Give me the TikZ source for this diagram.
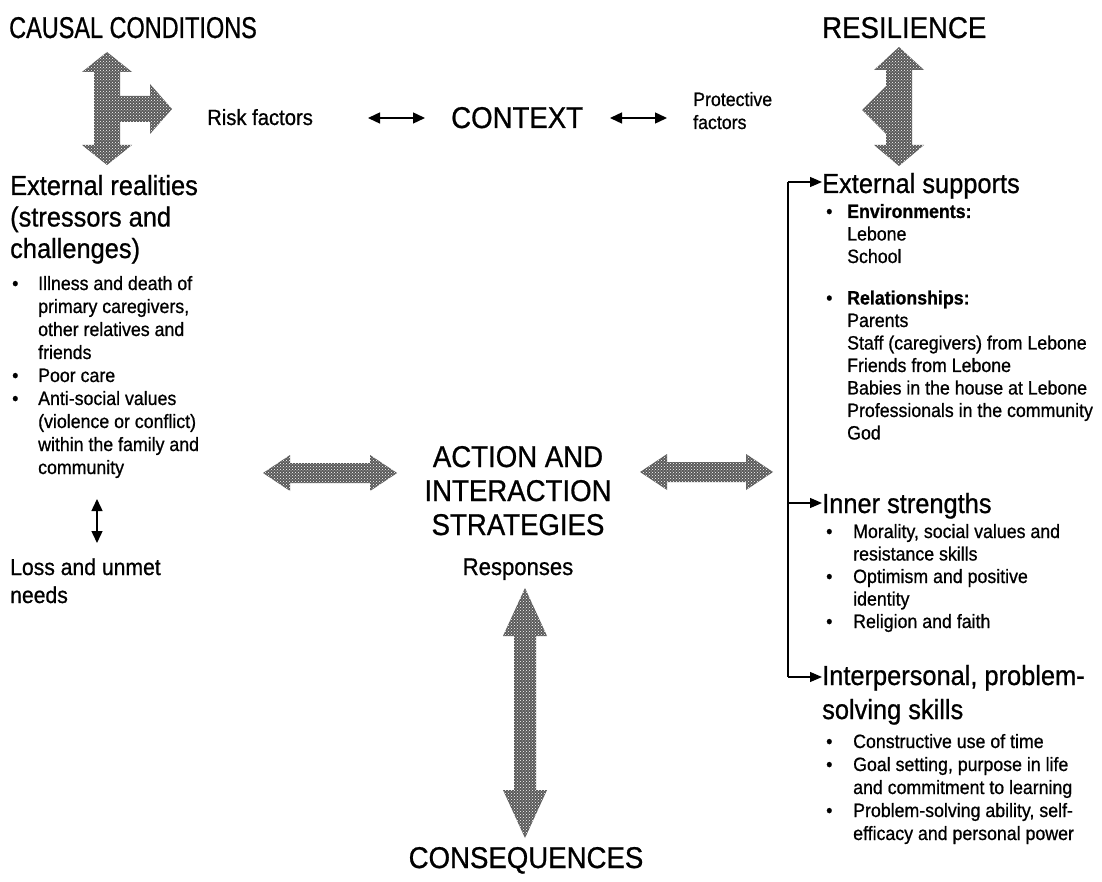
\documentclass[tikz,border=0pt]{standalone}
\usepackage{fontspec}
\setmainfont{Liberation Sans}[FakeStretch=0.92,FakeBold=0.8]
\usetikzlibrary{arrows.meta,patterns}
\newcommand\mytitle{\fontsize{30}{34}\selectfont}
\newcommand\myhead{\fontsize{27.6}{31.5}\selectfont}
\newcommand\mybody{\fontsize{19.3}{23}\selectfont}
\newcommand\myrbody{\fontsize{19.3}{22.5}\selectfont}
\newcommand\myloss{\fontsize{23}{28}\selectfont}
\newcommand\bul{\makebox[26pt][l]{\textbullet}}
\newcommand\bulr{\makebox[21pt][l]{\textbullet}}
\newcommand\bulq{\makebox[27pt][l]{\textbullet}}
\begin{document}
\begin{tikzpicture}[x=1pt,y=-1pt,
  txt/.style={inner sep=0pt, anchor=base west},
  ctxt/.style={inner sep=0pt, anchor=base},
  big/.style={fill=black!65, draw=none, postaction={pattern=crosshatch dots, pattern color=white}},
  sarr/.style={line width=1.4pt, {Triangle[length=12pt,width=11pt]}-{Triangle[length=12pt,width=11pt]}},
  barr/.style={line width=1.2pt, -{Triangle[length=12pt,width=10pt]}}]
\useasboundingbox (0,0) rectangle (1102,882);

% titles
\node[txt] (causal) at (9,38) {\mytitle\scalebox{0.85}[1]{CAUSAL CONDITIONS}};
\node[txt] (resil) at (822,38) {\mytitle RESILIENCE};
\node[txt] (risk) at (207,125) {\fontsize{22}{26}\selectfont Risk factors};
\node[txt] (context) at (451,128) {\mytitle CONTEXT};
\node[txt] (prot) at (693,106) {\mybody\begin{tabular}[t]{@{}l@{}}Protective\\factors\end{tabular}};
\coordinate (a1) at (368,118); \coordinate (a2) at (425,118);
\coordinate (a3) at (610,118); \coordinate (a4) at (667,118);
\draw[sarr] (a1) -- (a2);
\draw[sarr] (a3) -- (a4);

% big patterned arrows
\draw[big] (107,52) -- (132,72) -- (120,72) -- (120,96) -- (150,96) -- (150,84) -- (172,109)
  -- (150,134) -- (150,122) -- (120,122) -- (120,145) -- (132,145) -- (107,165) -- (82,145)
  -- (94,145) -- (94,72) -- (82,72) -- cycle;
\draw[big] (899,47) -- (924,70) -- (912,70) -- (912,145) -- (924,145) -- (899,166) -- (874,145)
  -- (886,145) -- (886,134) -- (862,110) -- (886,86) -- (886,70) -- (874,70) -- cycle;
\draw[big] (263,473) -- (290,455) -- (290,463) -- (370,463) -- (370,455) -- (397,473)
  -- (370,491) -- (370,483) -- (290,483) -- (290,491) -- cycle;
\draw[big] (640,472) -- (667,454) -- (667,462) -- (746,462) -- (746,454) -- (773,472)
  -- (746,490) -- (746,482) -- (667,482) -- (667,490) -- cycle;
\draw[big] (525,588) -- (547,636) -- (536,636) -- (536,790) -- (547,790) -- (525,838)
  -- (503,790) -- (514,790) -- (514,636) -- (503,636) -- cycle;

% left column
\node[txt] (ext) at (10,195) {\myhead\begin{tabular}[t]{@{}l@{}}External realities\\(stressors and\\challenges)\end{tabular}};
\node[txt] (extlist) at (12,290) {\mybody\begin{tabular}[t]{@{}l@{}l@{}}
\bul & Illness and death of\\ & primary caregivers,\\ & other relatives and\\ & friends\\
\bul & Poor care\\
\bul & Anti-social values\\ & (violence or conflict)\\ & within the family and\\ & community\end{tabular}};
\node[txt] (loss) at (10,575) {\myloss\begin{tabular}[t]{@{}l@{}}Loss and unmet\\needs\end{tabular}};
\coordinate (s1) at (97,499); \coordinate (s2) at (97,543);
\draw[sarr] (s1) -- (s2);

% centre
\node[ctxt] (action) at (518,467) {\mytitle\begin{tabular}[t]{@{}c@{}}ACTION AND\\INTERACTION\\STRATEGIES\end{tabular}};
\node[ctxt] (resp) at (518,575) {\fontsize{24}{28}\selectfont Responses};
\node[ctxt] (conseq) at (526,868) {\mytitle CONSEQUENCES};

% right column
\node[txt] (es) at (822,193) {\myhead External supports};
\node[txt] (eslist) at (826,218) {\myrbody\begin{tabular}[t]{@{}l@{}l@{}}
\bulr & \textbf{Environments:}\\ & Lebone\\ & School\\[19pt]
\bulr & \textbf{Relationships:}\\ & Parents\\ & Staff (caregivers) from Lebone\\ & Friends from Lebone\\
 & Babies in the house at Lebone\\ & Professionals in the community\\ & God\end{tabular}};
\node[txt] (inner) at (822,513) {\myhead Inner strengths};
\node[txt] (innerlist) at (826,538) {\fontsize{19.3}{22.5}\selectfont\begin{tabular}[t]{@{}l@{}l@{}}
\bulq & Morality, social values and\\ & resistance skills\\
\bulq & Optimism and positive\\ & identity\\
\bulq & Religion and faith\end{tabular}};
\node[txt] (inter) at (822,685) {\fontsize{27.6}{34}\selectfont\begin{tabular}[t]{@{}l@{}}Interpersonal, problem-\\solving skills\end{tabular}};
\node[txt] (interlist) at (826,748) {\fontsize{19.3}{23}\selectfont\begin{tabular}[t]{@{}l@{}l@{}}
\bulq & Constructive use of time\\
\bulq & Goal setting, purpose in life\\ & and commitment to learning\\
\bulq & Problem-solving ability, self-\\ & efficacy and personal power\end{tabular}};

% bracket
\coordinate (b1) at (788,182);
\coordinate (b2) at (788,503);
\coordinate (b3) at (788,677);
\draw[line width=1.2pt] (b1) -- (b3);
\draw[barr] (b1) -- (b1 -| es.west);
\draw[barr] (b2) -- (b2 -| inner.west);
\draw[barr] (b3) -- (b3 -| inter.west);
\end{tikzpicture}
\end{document}
